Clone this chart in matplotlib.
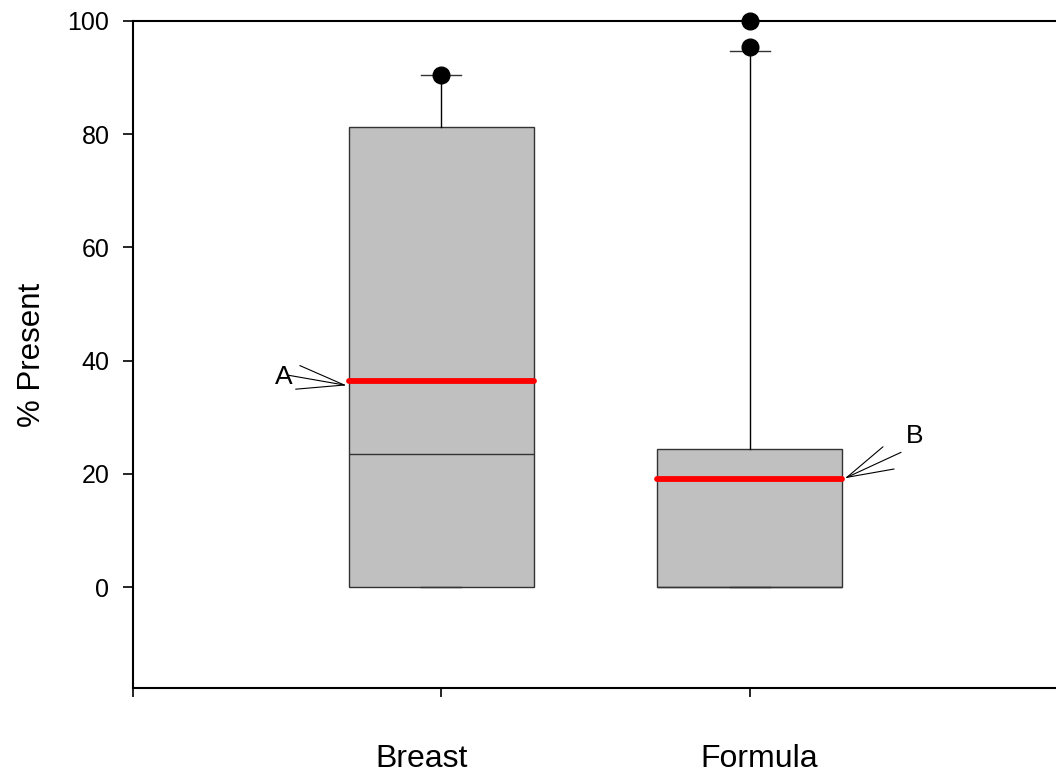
import matplotlib.pyplot as plt
from matplotlib.transforms import ScaledTranslation

plt.rcParams['font.family'] = ['Liberation Sans', 'DejaVu Sans']

groups = ['Breast', 'Formula']
q1 = [0, 0]
medians = [23.5, 0]
q3 = [81.3, 24.4]
whisker_lo = [0, 0]
whisker_hi = [90.5, 94.7]
means = [36.4, 19.1]
outliers = [[90.5], [95.4, 100]]
letters = ['A', 'B']

stats = []
for i, name in enumerate(groups):
    stats.append({'label': name, 'q1': q1[i], 'med': medians[i], 'q3': q3[i],
                  'whislo': whisker_lo[i], 'whishi': whisker_hi[i],
                  'mean': means[i], 'fliers': outliers[i]})

fig = plt.figure(figsize=(10.56, 7.76), dpi=100)
ax = fig.add_axes([0.126, 0.1134, 0.876, 0.8597])

bp = ax.bxp(stats, positions=[1, 2], widths=0.6, patch_artist=True,
            showmeans=True, meanline=True, capwidths=0.13,
            boxprops=dict(facecolor='#c0c0c0', edgecolor='#333333', linewidth=1),
            medianprops=dict(color='#333333', linewidth=1),
            whiskerprops=dict(color='black', linewidth=1),
            capprops=dict(color='#333333', linewidth=1),
            meanprops=dict(color='#ff0000', linewidth=4.2, linestyle='-',
                           solid_capstyle='round'),
            flierprops=dict(marker='o', markerfacecolor='black',
                            markeredgecolor='black', markersize=12))
for fl in bp['fliers']:
    fl.set_clip_on(False)
for ln in bp['means']:
    ln.set_zorder(5)

# letter labels with fan of pointer lines
fan_a = [(-32, 14), (-40, 7), (-35, -3)]
for dx, dy in fan_a:
    ax.annotate('', xy=(0.685, 35.7), xytext=(dx, dy), textcoords='offset points',
                arrowprops=dict(arrowstyle='-', color='black', lw=0.8,
                                shrinkA=0, shrinkB=0))
ax.text(0.49, 37.1, letters[0], fontsize=19, ha='center', va='center')

fan_b = [(26, 22), (39, 18), (34, 6)]
for dx, dy in fan_b:
    ax.annotate('', xy=(2.315, 19.4), xytext=(dx, dy), textcoords='offset points',
                arrowprops=dict(arrowstyle='-', color='black', lw=0.8,
                                shrinkA=0, shrinkB=0))
ax.text(2.535, 26.7, letters[1], fontsize=19, ha='center', va='center')

ax.set_xlim(0, 3)
ax.set_ylim(-17.8, 100)
ax.set_xticks([0, 1, 2, 3])
ax.set_xticklabels([''] + groups + [''], fontsize=23)
ax.set_yticks([0, 20, 40, 60, 80, 100])
ax.tick_params(axis='y', labelsize=18, direction='out', length=7, width=1.2, pad=10)
ax.tick_params(axis='x', direction='out', length=6.5, width=1.2, pad=34)
ax.set_ylabel('% Present', fontsize=22.5, labelpad=15)

# group labels sit slightly off their ticks in the original
shifts = [0, -0.2, 0.09, 0]
for lab, dx in zip(ax.get_xticklabels(), shifts):
    lab.set_transform(lab.get_transform() + ScaledTranslation(dx, 0, fig.dpi_scale_trans))

for side in ['left', 'bottom', 'top']:
    ax.spines[side].set_linewidth(1.5)
ax.spines['right'].set_visible(False)

fig.savefig('out.png', dpi=100)
